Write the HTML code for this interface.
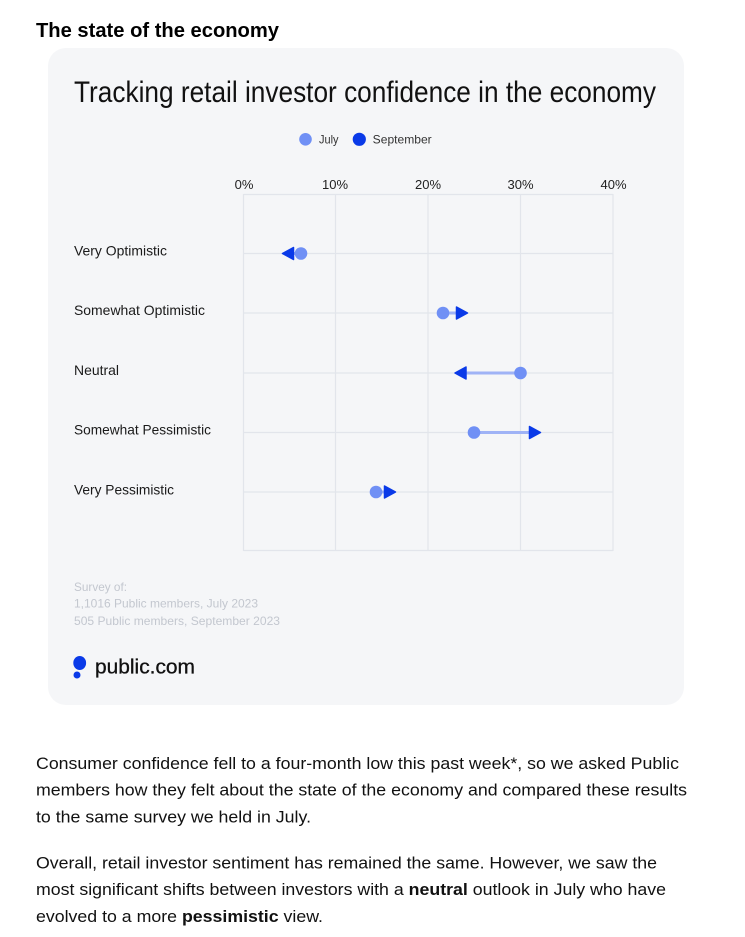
<!DOCTYPE html>
<html>
<head>
<meta charset="utf-8">
<style>
  html,body{margin:0;padding:0;background:#ffffff;}
  body{width:745px;height:937px;overflow:hidden;position:relative;}
  svg{position:absolute;left:0;top:0;}
  text{font-family:"Liberation Sans", Arial, sans-serif;}
</style>
</head>
<body>
<svg width="745" height="937" viewBox="0 0 745 937" xmlns="http://www.w3.org/2000/svg">
  <!-- page heading -->
  <text x="36" y="37" font-size="20" font-weight="bold" fill="#000" textLength="243" lengthAdjust="spacingAndGlyphs">The state of the economy</text>

  <!-- card -->
  <rect x="48" y="48" width="636" height="657" rx="18" ry="18" fill="#f5f6f8"/>

  <!-- chart title -->
  <text x="74" y="102" font-size="30" fill="#111" textLength="582" lengthAdjust="spacingAndGlyphs">Tracking retail investor confidence in the economy</text>

  <!-- legend -->
  <circle cx="305.5" cy="139.3" r="6.3" fill="#7090f5"/>
  <text x="319" y="143.5" font-size="12" fill="#333" textLength="19.5" lengthAdjust="spacingAndGlyphs">July</text>
  <circle cx="359.3" cy="139.3" r="6.6" fill="#0a3ae8"/>
  <text x="372.7" y="143.5" font-size="12" fill="#333" textLength="59" lengthAdjust="spacingAndGlyphs">September</text>

  <!-- axis labels -->
  <g font-size="13" fill="#222" text-anchor="middle">
    <text x="244" y="189">0%</text>
    <text x="335" y="189">10%</text>
    <text x="428" y="189">20%</text>
    <text x="520.5" y="189">30%</text>
    <text x="613.5" y="189">40%</text>
  </g>

  <!-- grid -->
  <g stroke="#e2e5eb" stroke-width="1.2" fill="none">
    <line x1="243.5" y1="194" x2="243.5" y2="551"/>
    <line x1="335.5" y1="194" x2="335.5" y2="551"/>
    <line x1="428" y1="194" x2="428" y2="551"/>
    <line x1="520.5" y1="194" x2="520.5" y2="551"/>
    <line x1="613" y1="194" x2="613" y2="551"/>
    <line x1="243.5" y1="194.5" x2="613" y2="194.5"/>
    <line x1="243.5" y1="253.5" x2="613" y2="253.5"/>
    <line x1="243.5" y1="313" x2="613" y2="313"/>
    <line x1="243.5" y1="373" x2="613" y2="373"/>
    <line x1="243.5" y1="432.5" x2="613" y2="432.5"/>
    <line x1="243.5" y1="492" x2="613" y2="492"/>
    <line x1="243.5" y1="550.5" x2="613" y2="550.5"/>
  </g>

  <!-- row labels -->
  <g font-size="14" fill="#1a1a1a">
    <text x="74" y="255.5" textLength="93" lengthAdjust="spacingAndGlyphs">Very Optimistic</text>
    <text x="74" y="315.2" textLength="131" lengthAdjust="spacingAndGlyphs">Somewhat Optimistic</text>
    <text x="74" y="374.9" textLength="45" lengthAdjust="spacingAndGlyphs">Neutral</text>
    <text x="74" y="434.6" textLength="137" lengthAdjust="spacingAndGlyphs">Somewhat Pessimistic</text>
    <text x="74" y="494.3" textLength="100" lengthAdjust="spacingAndGlyphs">Very Pessimistic</text>
  </g>

  <!-- connectors -->
  <g stroke="#9fb3f6" stroke-width="3">
    <line x1="293" y1="253.5" x2="301" y2="253.5"/>
    <line x1="443" y1="313" x2="458" y2="313"/>
    <line x1="465" y1="373" x2="520.5" y2="373"/>
    <line x1="474" y1="432.5" x2="530" y2="432.5"/>
    <line x1="376" y1="492" x2="386" y2="492"/>
  </g>

  <!-- september triangles -->
  <g fill="#0a3ae8" stroke="#0a3ae8" stroke-width="1.5" stroke-linejoin="round">
    <polygon points="282.5,253.5 293.5,247.5 293.5,259.5"/>
    <polygon points="467.5,313 456.5,307 456.5,319"/>
    <polygon points="455,373 466,367 466,379"/>
    <polygon points="540.5,432.5 529.5,426.5 529.5,438.5"/>
    <polygon points="395.5,492 384.5,486 384.5,498"/>
  </g>

  <!-- july circles -->
  <g fill="#7090f5">
    <circle cx="301" cy="253.5" r="6.3"/>
    <circle cx="443" cy="313" r="6.3"/>
    <circle cx="520.5" cy="373" r="6.3"/>
    <circle cx="474" cy="432.5" r="6.3"/>
    <circle cx="376" cy="492" r="6.3"/>
  </g>

  <!-- footnote -->
  <g font-size="12" fill="#c3c7cf">
    <text x="74" y="591" textLength="53" lengthAdjust="spacingAndGlyphs">Survey of:</text>
    <text x="74" y="607.5" textLength="184" lengthAdjust="spacingAndGlyphs">1,1016 Public members, July 2023</text>
    <text x="74" y="625" textLength="206" lengthAdjust="spacingAndGlyphs">505 Public members, September 2023</text>
  </g>

  <!-- logo -->
  <ellipse cx="79.7" cy="663" rx="6.4" ry="7" fill="#0a3ae8"/>
  <circle cx="77" cy="675" r="3.5" fill="#0a3ae8"/>
  <text x="95" y="673.5" font-size="20" fill="#111" stroke="#111" stroke-width="0.3" textLength="100" lengthAdjust="spacingAndGlyphs">public.com</text>

  <!-- body text -->
  <g font-size="17" fill="#111">
    <text x="36" y="769" textLength="643" lengthAdjust="spacingAndGlyphs">Consumer confidence fell to a four-month low this past week*, so we asked Public</text>
    <text x="36" y="795.7" textLength="651" lengthAdjust="spacingAndGlyphs">members how they felt about the state of the economy and compared these results</text>
    <text x="36" y="822.3" textLength="275" lengthAdjust="spacingAndGlyphs">to the same survey we held in July.</text>
    <text x="36" y="868.5" textLength="621" lengthAdjust="spacingAndGlyphs">Overall, retail investor sentiment has remained the same. However, we saw the</text>
    <text x="36" y="895.2" textLength="630" lengthAdjust="spacingAndGlyphs">most significant shifts between investors with a <tspan font-weight="bold">neutral</tspan> outlook in July who have</text>
    <text x="36" y="921.8" textLength="287" lengthAdjust="spacingAndGlyphs">evolved to a more <tspan font-weight="bold">pessimistic</tspan> view.</text>
  </g>
</svg>
</body>
</html>
